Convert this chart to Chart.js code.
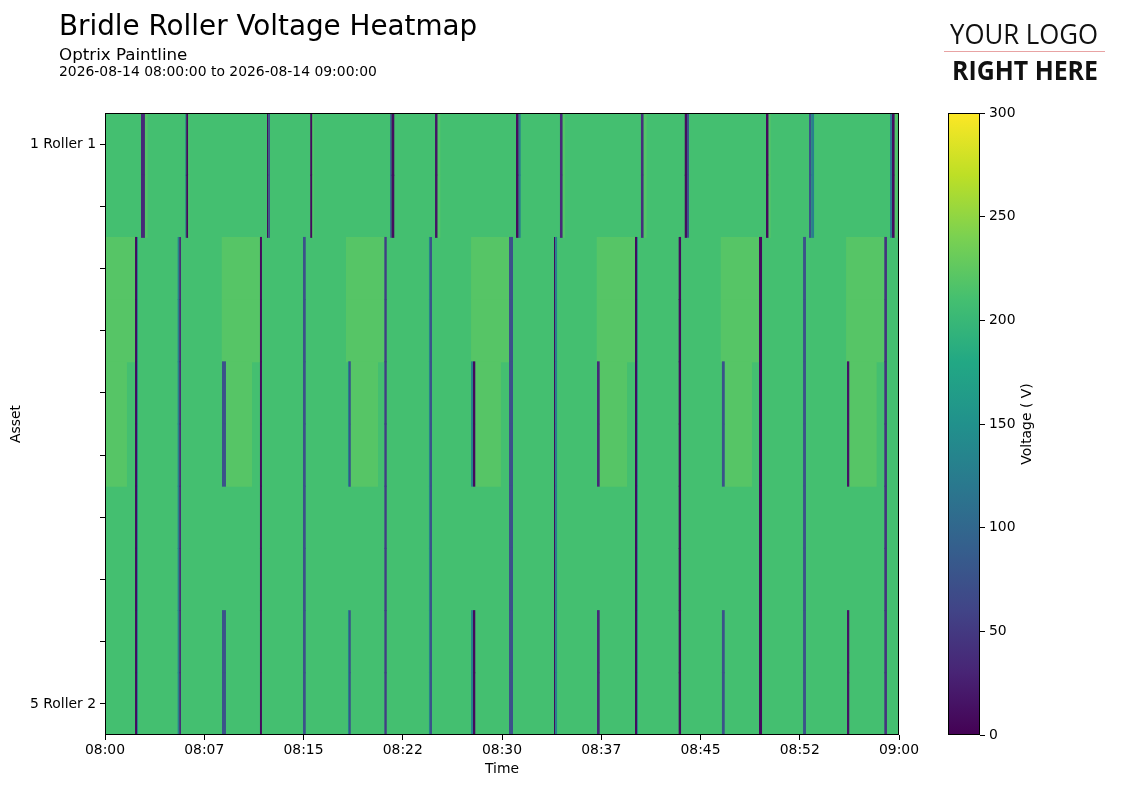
<!DOCTYPE html>
<html>
<head>
<meta charset="utf-8">
<title>Bridle Roller Voltage Heatmap</title>
<script src="https://cdn.jsdelivr.net/npm/chart.js@4.4.1/dist/chart.umd.min.js"></script>
<style>
  html, body { margin: 0; padding: 0; background: #fff; }
  #wrap { position: relative; width: 1121px; height: 788px; }
  #heat { position: absolute; left: 0; top: 0; width: 1121px; height: 788px; }
  #cbar { position: absolute; left: 900px; top: 0; width: 221px; height: 788px; }
</style>
</head>
<body>
<div id="wrap">
  <canvas id="heat" width="1121" height="788"></canvas>
  <canvas id="cbar" width="221" height="788"></canvas>
</div>
<script>
// ---- data ----
const TITLE = 'Bridle Roller Voltage Heatmap';
const SUBTITLE = 'Optrix Paintline';
const RANGE = '2026-08-14 08:00:00 to 2026-08-14 09:00:00';

const ASSETS = ['1 Roller 1', '1 Roller 2', '2 Roller 1', '2 Roller 2', '3 Roller 1',
                '3 Roller 2', '4 Roller 1', '4 Roller 2', '5 Roller 1', '5 Roller 2'];
const TIME_TICKS = ['08:00', '08:07', '08:15', '08:22', '08:30', '08:37', '08:45', '08:52', '09:00'];
const V_MIN = 0;
const V_MAX = 300;

// base voltage per bridle (two rollers each)
const BASE_VOLTS = [210, 210, 210, 210, 210];

// [start minute, end minute, volts]
const BRIDLE1_EVENTS = [
  [2.72, 3.02, 35], [3.02, 3.23, 218],
  [6.07, 6.14, 130], [6.14, 6.29, 8], [6.29, 6.37, 218],
  [12.24, 12.34, 10], [12.34, 12.47, 75],
  [15.51, 15.67, 8], [15.67, 15.79, 218],
  [21.54, 21.65, 110], [21.65, 21.86, 10],
  [24.94, 25.14, 15], [25.14, 25.34, 218],
  [31.06, 31.26, 10], [31.26, 31.41, 130],
  [34.38, 34.59, 35], [34.59, 34.76, 218],
  [40.50, 40.71, 40], [40.71, 40.93, 218],
  [43.81, 43.98, 10], [43.98, 44.13, 75],
  [49.95, 50.15, 8], [50.15, 50.31, 218],
  [53.20, 53.37, 75], [53.37, 53.58, 130],
  [59.32, 59.47, 130], [59.47, 59.68, 10], [59.68, 59.87, 218]
];

const BRIDLE2_HIGH = [
  [0, 2.27, 220], [8.82, 11.71, 220], [18.21, 21.11, 220], [27.66, 30.53, 220],
  [37.16, 40.05, 220], [46.53, 49.42, 220], [56.00, 58.89, 220]
];

const BRIDLE3_HIGH = [
  [0, 1.66, 220], [9.14, 11.11, 220], [18.57, 20.63, 220], [27.98, 29.92, 220],
  [37.38, 39.45, 220], [46.83, 48.89, 220], [56.24, 58.31, 220]
];

// dips seen on bridles 2 to 5
const DRIVE_DIPS = [
  [2.27, 2.42, 8], [2.42, 2.49, 130],
  [5.49, 5.61, 130], [5.61, 5.74, 35],
  [11.71, 11.86, 8],
  [14.96, 15.17, 75],
  [21.11, 21.29, 55],
  [24.48, 24.56, 130], [24.56, 24.71, 75],
  [30.53, 30.83, 75],
  [33.93, 34.01, 8], [34.01, 34.16, 130],
  [40.05, 40.20, 8], [40.20, 40.27, 130],
  [43.35, 43.53, 10],
  [49.42, 49.65, 8],
  [52.75, 52.97, 75],
  [58.89, 59.09, 45]
];

// extra dips on bridles 3 and 5
const ODD_DIPS = [
  [8.84, 9.14, 75],
  [18.36, 18.44, 130], [18.44, 18.57, 75],
  [27.66, 27.81, 130], [27.81, 27.98, 8],
  [37.18, 37.38, 35],
  [46.62, 46.83, 75],
  [56.07, 56.24, 15]
];

const BRIDLE_LAYERS = [
  [BRIDLE1_EVENTS],
  [BRIDLE2_HIGH, DRIVE_DIPS],
  [BRIDLE3_HIGH, DRIVE_DIPS, ODD_DIPS],
  [DRIVE_DIPS],
  [DRIVE_DIPS, ODD_DIPS]
];

// ---- colour map ----
const VIRIDIS = ['#440154', '#482475', '#414487', '#355f8d', '#2a788e', '#21918c',
                 '#22a884', '#44bf70', '#7ad151', '#bddf26', '#fde725'];

function hexRgb(h) {
  return [parseInt(h.substr(1, 2), 16), parseInt(h.substr(3, 2), 16), parseInt(h.substr(5, 2), 16)];
}

function viridis(t) {
  t = Math.min(1, Math.max(0, t));
  var p = t * (VIRIDIS.length - 1);
  var i = Math.min(Math.floor(p), VIRIDIS.length - 2);
  var f = p - i;
  var a = hexRgb(VIRIDIS[i]), b = hexRgb(VIRIDIS[i + 1]);
  var c = a.map((v, k) => Math.round(v + (b[k] - v) * f));
  return 'rgb(' + c.join(',') + ')';
}

// ---- build bars ----
const FONT = 'DejaVu Sans';
Chart.defaults.font.family = FONT;
Chart.defaults.font.size = 13.9;
Chart.defaults.color = '#000';

let heatData = [];
ASSETS.forEach((name, i) => {
  heatData.push({ x: [0, 60], y: name, v: BASE_VOLTS[Math.floor(i / 2)] });
});
ASSETS.forEach((name, i) => {
  BRIDLE_LAYERS[Math.floor(i / 2)].forEach(layer => {
    layer.forEach(([s, e, v]) => heatData.push({ x: [s, e], y: name, v: v }));
  });
});

const frame = {
  id: 'frame',
  afterDatasetsDraw(chart) {
    var a = chart.chartArea;
    var ctx = chart.ctx;
    ctx.save();
    ctx.strokeStyle = '#000';
    ctx.lineWidth = 1;
    ctx.strokeRect(Math.round(a.left) + 0.5, Math.round(a.top) + 0.5,
                   Math.round(a.right - a.left) - 1, Math.round(a.bottom - a.top) - 1);
    ctx.restore();
  }
};

function fitText(ctx, text, font, x, y, width) {
  ctx.font = font;
  var w = ctx.measureText(text).width;
  ctx.save();
  ctx.translate(x, y);
  ctx.scale(width / w, 1);
  ctx.fillText(text, 0, 0);
  ctx.restore();
}

const header = {
  id: 'header',
  afterDraw(chart) {
    var ctx = chart.ctx;
    ctx.save();
    ctx.fillStyle = '#000';
    ctx.textAlign = 'left';
    ctx.textBaseline = 'alphabetic';
    ctx.font = '27.8px "' + FONT + '"';
    ctx.fillText(TITLE, 59, 35);
    ctx.font = '16.7px "' + FONT + '"';
    ctx.fillText(SUBTITLE, 59, 60);
    ctx.font = '13.9px "' + FONT + '"';
    ctx.fillText(RANGE, 59, 76);

    // logo placeholder
    ctx.fillStyle = '#111';
    fitText(ctx, 'YOUR LOGO', '27px "Open Sans"', 950, 44, 148);
    ctx.strokeStyle = '#e8a3a3';
    ctx.lineWidth = 1;
    ctx.beginPath();
    ctx.moveTo(944, 51.5);
    ctx.lineTo(1105, 51.5);
    ctx.stroke();
    fitText(ctx, 'RIGHT HERE', 'bold 26px "Open Sans"', 952, 80, 146);
    ctx.restore();
  }
};

new Chart(document.getElementById('heat'), {
  type: 'bar',
  data: {
    labels: ASSETS,
    datasets: [{
      data: heatData,
      backgroundColor: c => (c.raw ? viridis((c.raw.v - V_MIN) / (V_MAX - V_MIN)) : VIRIDIS[0]),
      borderWidth: 0,
      inflateAmount: 0,
      barPercentage: 1.015,
      categoryPercentage: 1,
    }],
  },
  options: {
    indexAxis: 'y',
    responsive: false,
    animation: false,
    layout: { padding: { left: 0, top: 113, right: 222, bottom: 0 } },
    plugins: {
      legend: { display: false },
      tooltip: { enabled: false },
    },
    scales: {
      x: {
        type: 'linear',
        min: 0,
        max: 60,
        afterFit: s => { s.height = 53; },
        ticks: {
          stepSize: 7.5,
          autoSkip: false,
          maxRotation: 0,
          padding: 2,
          callback: (v, i) => TIME_TICKS[i],
        },
        grid: { drawOnChartArea: false, tickLength: 5, color: '#000' },
        border: { display: false },
        title: { display: true, text: 'Time', padding: { top: 0, bottom: 10 } },
      },
      y: {
        type: 'category',
        afterFit: s => { s.width = 105; },
        ticks: {
          autoSkip: false,
          padding: 4,
          callback: (v, i) => (i === 0 || i === ASSETS.length - 1 ? ASSETS[i] : ''),
        },
        grid: { offset: false, drawOnChartArea: false, tickLength: 5, color: '#000' },
        border: { display: false },
        title: { display: true, text: 'Asset', padding: { top: 8, bottom: 0 } },
      },
    },
  },
  plugins: [frame, header],
});

// ---- colour bar ----
const cbarLabel = {
  id: 'cbarLabel',
  afterDraw(chart) {
    var ctx = chart.ctx;
    var a = chart.chartArea;
    ctx.save();
    ctx.fillStyle = '#000';
    ctx.font = '13.9px "' + FONT + '"';
    ctx.textAlign = 'center';
    ctx.textBaseline = 'middle';
    ctx.translate(127, (a.top + a.bottom) / 2);
    ctx.rotate(-Math.PI / 2);
    ctx.fillText('Voltage ( V)', 0, 0);
    ctx.restore();
  }
};

new Chart(document.getElementById('cbar'), {
  type: 'bar',
  data: {
    labels: ['Voltage'],
    datasets: [{
      data: [[V_MIN, V_MAX]],
      backgroundColor: c => {
        var a = c.chart.chartArea;
        if (!a) return VIRIDIS[0];
        var g = c.chart.ctx.createLinearGradient(0, a.bottom, 0, a.top);
        VIRIDIS.forEach((col, i) => g.addColorStop(i / (VIRIDIS.length - 1), col));
        return g;
      },
      borderWidth: 0,
      inflateAmount: 0,
      barPercentage: 1,
      categoryPercentage: 1,
    }],
  },
  options: {
    responsive: false,
    animation: false,
    layout: { padding: { left: 48, top: 113, right: 81, bottom: 53 } },
    plugins: {
      legend: { display: false },
      tooltip: { enabled: false },
    },
    scales: {
      x: { display: false },
      y: {
        position: 'right',
        min: V_MIN,
        max: V_MAX,
        afterFit: s => { s.width = 60; },
        ticks: { stepSize: 50, padding: 4 },
        grid: { drawOnChartArea: false, tickLength: 5, color: '#000' },
        border: { display: false },
      },
    },
  },
  plugins: [frame, cbarLabel],
});
</script>
</body>
</html>
